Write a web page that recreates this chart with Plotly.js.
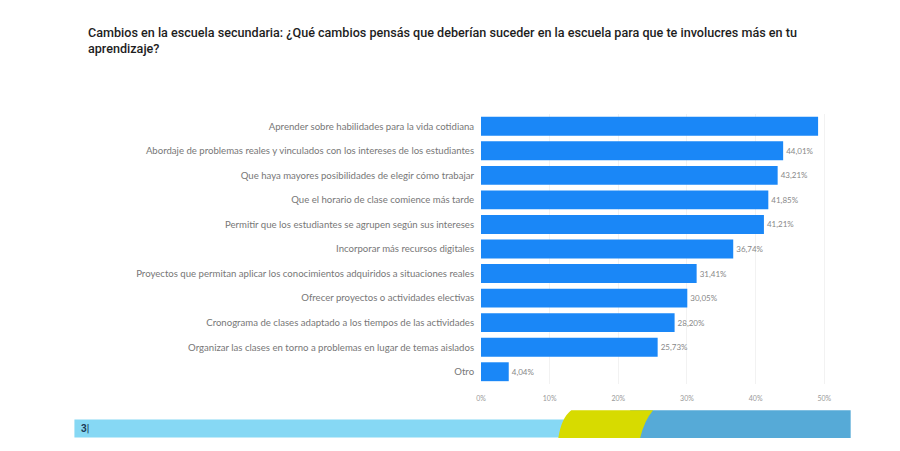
<!DOCTYPE html>
<html>
<head>
<meta charset="utf-8">
<script src="https://cdn.plot.ly/plotly-3.0.1.min.js"></script>
<style>html,body{margin:0;padding:0;background:#fff;}#chart{width:900px;height:451px;}</style>
</head>
<body>
<div id="chart"></div>
<script>
const categories = [
  "Aprender sobre habilidades para la vida cotidiana",
  "Abordaje de problemas reales y vinculados con los intereses de los estudiantes",
  "Que haya mayores posibilidades de elegir cómo trabajar",
  "Que el horario de clase comience más tarde",
  "Permitir que los estudiantes se agrupen según sus intereses",
  "Incorporar más recursos digitales",
  "Proyectos que permitan aplicar los conocimientos adquiridos a situaciones reales",
  "Ofrecer proyectos o actividades electivas",
  "Cronograma de clases adaptado a los tiempos de las actividades",
  "Organizar las clases en torno a problemas en lugar de temas aislados",
  "Otro"
];
const values = [49.1, 44.01, 43.21, 41.85, 41.21, 36.74, 31.41, 30.05, 28.20, 25.73, 4.04];
const labelShown = [false, true, true, true, true, true, true, true, true, true, true];
const tickValues = [0, 10, 20, 30, 40, 50];
const tickLabels = ["0%", "10%", "20%", "30%", "40%", "50%"];

const W = 900, H = 451;
const L = 480.5, R = 61.7, T = 113.7, B = 66.7;
const PW = W - L - R, PH = H - T - B;
const px = x => (x - L) / PW;
const py = y => (T + PH - y) / PH;
const P = (x, y) => px(x).toFixed(5) + ',' + py(y).toFixed(5);
const yellowPath = 'M ' + P(571, 410.5) + ' L ' + P(653, 410.5) +
  ' Q ' + P(644, 421) + ' ' + P(640, 438.5) +
  ' L ' + P(558, 438.5) + ' Q ' + P(561, 418) + ' ' + P(571, 410.5) + ' Z';

const trace = {
  type: 'bar',
  orientation: 'h',
  y: categories,
  x: values,
  marker: {color: '#1a87f7'},
  text: values.map(v => v.toFixed(2).replace('.', ',') + '%'),
  textposition: labelShown.map(s => s ? 'outside' : 'none'),
  textfont: {family: 'Lato, sans-serif', size: 8, color: '#888'},
  cliponaxis: false,
  hoverinfo: 'none'
};

const layout = {
  width: W, height: H,
  margin: {l: L, r: R, t: T, b: B, pad: 0},
  paper_bgcolor: '#fff', plot_bgcolor: '#fff',
  showlegend: false,
  bargap: 0.23,
  title: {
    text: 'Cambios en la escuela secundaria: ¿Qué cambios pensás que deberían suceder en la escuela para que te involucres más en tu<br>aprendizaje?',
    font: {family: 'Roboto, sans-serif', size: 12.6, color: '#1e1e1e', weight: 500},
    x: 88 / W, xref: 'container', xanchor: 'left',
    y: 1 - 37 / H, yref: 'container', yanchor: 'top'
  },
  xaxis: {
    range: [0, 52],
    tickvals: tickValues, ticktext: tickLabels,
    showgrid: true, gridcolor: '#f2f2f2', gridwidth: 1,
    zeroline: false, showline: false,
    tickfont: {family: 'Lato, sans-serif', size: 7, color: '#999'},
    ticks: 'outside', ticklen: 8, tickcolor: 'rgba(0,0,0,0)'
  },
  yaxis: {
    autorange: 'reversed',
    showgrid: false, zeroline: false, showline: false,
    tickfont: {family: 'Lato, sans-serif', size: 9.6, color: '#777'},
    ticks: 'outside', ticklen: 4, tickcolor: 'rgba(0,0,0,0)'
  },
  shapes: [
    {type: 'rect', xref: 'paper', yref: 'paper', x0: px(73), x1: px(566), y0: py(438), y1: py(420),
     fillcolor: '#86d8f4', line: {width: 0}, layer: 'above'},
    {type: 'rect', xref: 'paper', yref: 'paper', x0: px(630), x1: px(851), y0: py(438.5), y1: py(410.5),
     fillcolor: '#56aad7', line: {width: 0}, layer: 'above'},
    {type: 'path', xref: 'paper', yref: 'paper', path: yellowPath,
     fillcolor: '#d7db00', line: {width: 0}, layer: 'above'}
  ],
  annotations: [
    {xref: 'paper', yref: 'paper', x: px(78), y: py(429), xanchor: 'left', yanchor: 'middle',
     text: '<b>3|</b>', showarrow: false,
     font: {family: 'Roboto, sans-serif', size: 10, color: '#1b3a57'}}
  ]
};

Plotly.newPlot('chart', [trace], layout, {displayModeBar: false, staticPlot: true});
</script>
</body>
</html>
